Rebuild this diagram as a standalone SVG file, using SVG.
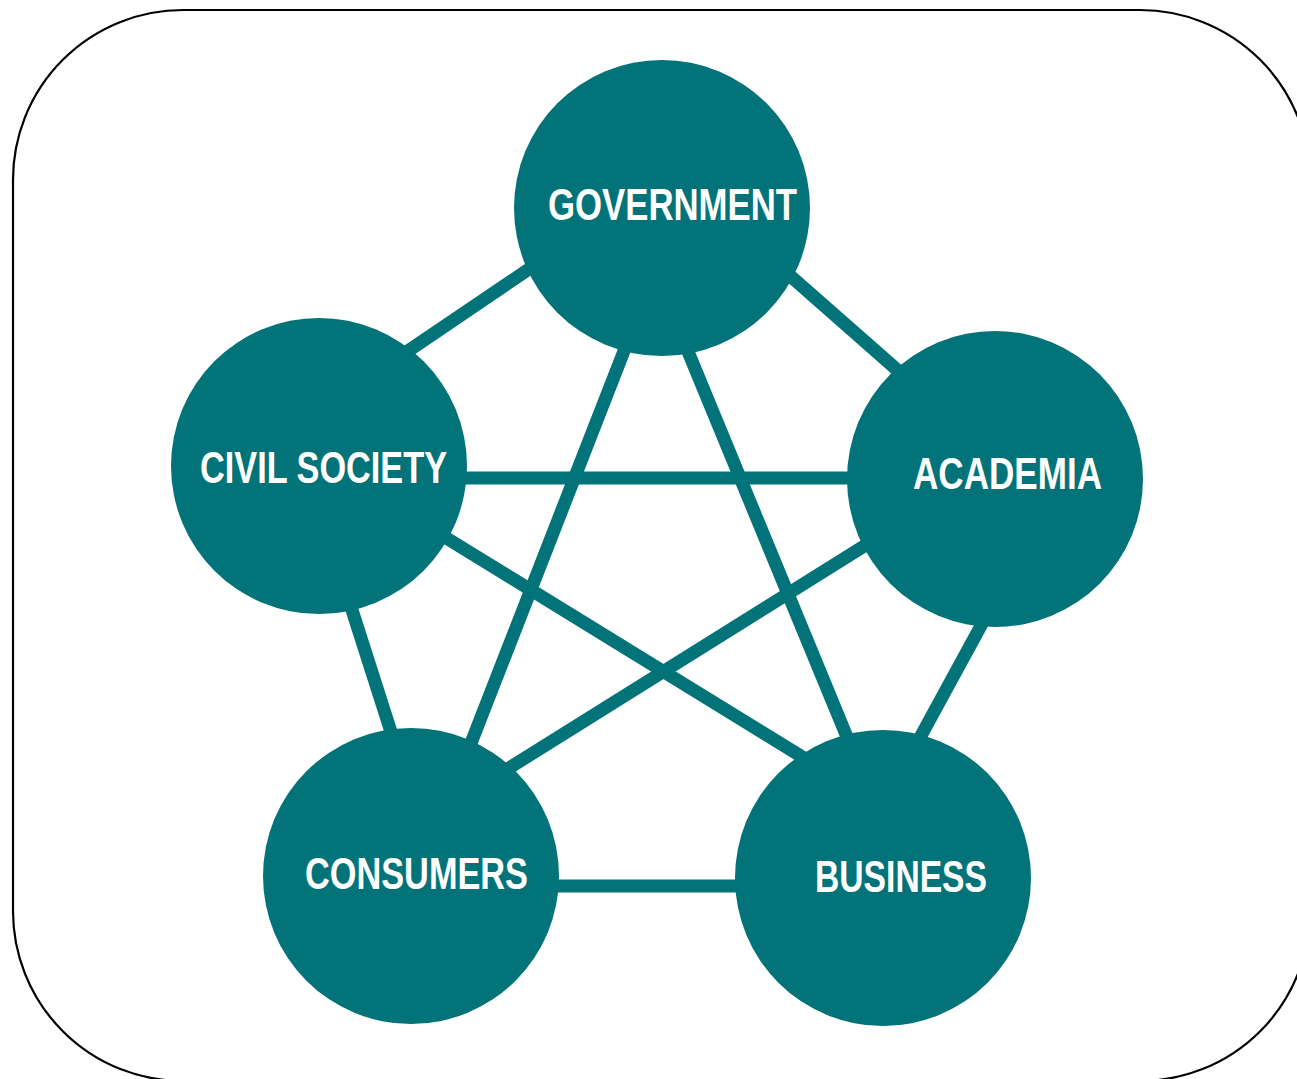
<svg xmlns="http://www.w3.org/2000/svg" width="1297" height="1079" viewBox="0 0 1297 1079">
<style>
.frame{fill:#ffffff;stroke:#000000;stroke-width:2.2}
.node{fill:#027378}
.link{stroke:#027378;stroke-width:13;fill:none}
.lbl{font-family:"Liberation Sans","Arial",sans-serif;font-weight:bold;font-size:44px;fill:#ffffff}
</style>
<rect class="frame" x="13" y="10" width="1297" height="1071" rx="170" ry="170"/>
<g id="connectors">
<line class="link" x1="380" y1="370" x2="560" y2="248"/>
<line class="link" x1="770" y1="258" x2="920" y2="390"/>
<line class="link" x1="640" y1="310" x2="441" y2="820"/>
<line class="link" x1="668" y1="303" x2="866" y2="783"/>
<line class="link" x1="440" y1="478" x2="870" y2="478"/>
<line class="link" x1="430" y1="528" x2="830" y2="774"/>
<line class="link" x1="345" y1="588" x2="400" y2="760"/>
<line class="link" x1="885" y1="533" x2="485" y2="783"/>
<line class="link" x1="995" y1="600" x2="905" y2="765"/>
<line class="link" x1="540" y1="886" x2="760" y2="886"/>
</g>
<g id="government">
<circle class="node" cx="662" cy="208" r="148"/>
<text class="lbl" x="548" y="220" textLength="249" lengthAdjust="spacingAndGlyphs">GOVERNMENT</text>
</g>
<g id="civil-society">
<circle class="node" cx="319" cy="466" r="148"/>
<text class="lbl" x="200" y="483" textLength="247" lengthAdjust="spacingAndGlyphs">CIVIL SOCIETY</text>
</g>
<g id="academia">
<circle class="node" cx="995" cy="479" r="148"/>
<text class="lbl" x="913" y="489" textLength="189" lengthAdjust="spacingAndGlyphs">ACADEMIA</text>
</g>
<g id="consumers">
<circle class="node" cx="411" cy="876" r="148"/>
<text class="lbl" x="305" y="889" textLength="223" lengthAdjust="spacingAndGlyphs">CONSUMERS</text>
</g>
<g id="business">
<circle class="node" cx="883" cy="878" r="148"/>
<text class="lbl" x="815" y="892" textLength="172" lengthAdjust="spacingAndGlyphs">BUSINESS</text>
</g>
</svg>
